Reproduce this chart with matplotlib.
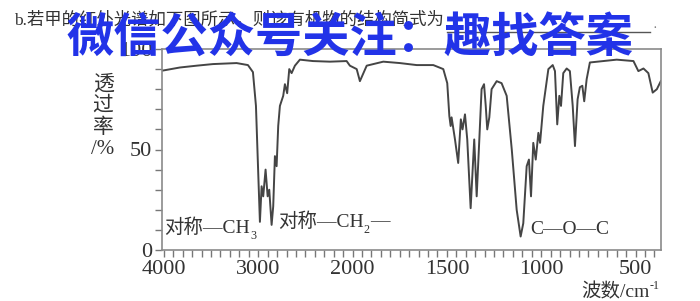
import numpy as np
import matplotlib
matplotlib.use("Agg")
import matplotlib.pyplot as plt
from matplotlib.ticker import FixedLocator, NullFormatter

plt.rcParams['font.family'] = ['Liberation Serif', 'Noto Sans CJK SC']

# ---- data ----
wavenumber = [4020, 3830, 3653, 3480, 3229, 3109, 3056, 3024, 3000, 2982, 2964, 2947,
              2922, 2900, 2883, 2858, 2841, 2823, 2805, 2788, 2770, 2735, 2717, 2693,
              2671, 2646, 2611, 2558, 2420, 2240, 2063, 2028,
              1978, 1961, 1925, 1837, 1749, 1660, 1572, 1519, 1498, 1487, 1480, 1475,
              1457, 1440, 1426, 1417, 1404, 1392, 1374, 1355, 1342, 1328, 1316, 1303,
              1294, 1286, 1275, 1263, 1236, 1210, 1183, 1156, 1130, 1109, 1095, 1077,
              1065, 1054, 1042, 1029, 1015, 1006, 989, 962, 939, 927, 915, 904, 895,
              883, 865, 848, 833, 821, 807, 795, 782, 772, 759, 742, 671, 600, 511,
              485, 458, 432, 409, 387, 366]
transmittance = [89.2, 90.8, 91.7, 92.5, 93.0, 92.0, 88.5, 71.7, 38.5, 14.0, 31.7, 26.7,
                 40.0, 26.7, 30.0, 12.5, 21.7, 46.7, 41.7, 61.7, 71.7, 76.7, 82.5, 78.0,
                 90.0, 88.0, 91.7, 94.7, 94.0, 93.7, 94.0, 91.7,
                 90.0, 84.0, 91.7, 93.7, 93.0, 92.0, 92.0, 90.0, 83.0, 66.7, 61.7, 66.0,
                 55.0, 43.3, 65.0, 60.0, 67.5, 55.0, 20.8, 55.0, 26.7, 55.0, 80.0, 82.5,
                 71.7, 60.0, 66.0, 80.0, 84.0, 83.0, 76.7, 50.0, 20.0, 6.7, 13.3, 41.7,
                 45.0, 26.7, 53.3, 45.0, 58.3, 53.3, 71.7, 90.0, 92.0, 89.0, 62.5, 76.7, 71.7,
                 88.0, 90.3, 89.0, 71.7, 51.7, 75.0, 81.0, 81.7, 74.0, 85.0, 93.3, 94.0, 94.7, 94.0,
                 89.0, 90.3, 88.0, 78.3, 80.0, 84.0]
x_major = [4000, 3000, 2000, 1500, 1000, 500]
x_labels = ['4000', '3000', '2000', '1500', '1000', '500']
y_major = [0, 50, 100]
y_labels = ['0', '50', '100']

def fwd(w):
    w = np.asarray(w, dtype=float)
    return np.where(w >= 2000, 4 + (w - 2000) / 1000.0, w / 500.0)

def inv(u):
    u = np.asarray(u, dtype=float)
    return np.where(u >= 4, 2000 + (u - 4) * 1000.0, u * 500.0)

W, H = 700, 301
TXT = '#333333'
fig = plt.figure(figsize=(7.0, 3.01), dpi=100)
ax = fig.add_axes([162 / W, 1 - 250 / H, (661 - 162) / W, (250 - 49) / H])
ax.set_xscale('function', functions=(fwd, inv))
ax.plot(wavenumber, transmittance, color='#454545', lw=1.4)
ax.set_xlim(4020, 365)
ax.set_ylim(0, 100)

minor_x = list(range(4000, 2000, -100)) + list(range(2000, 360, -50))
ax.xaxis.set_major_locator(FixedLocator(x_major))
ax.set_xticklabels(x_labels)
ax.xaxis.set_minor_locator(FixedLocator(minor_x))
ax.xaxis.set_minor_formatter(NullFormatter())
ax.yaxis.set_major_locator(FixedLocator(y_major))
ax.set_yticklabels(y_labels)
ax.yaxis.set_minor_locator(FixedLocator(list(range(0, 101, 10))))

for s in ax.spines.values():
    s.set_color('#8a8a8a')
    s.set_linewidth(1.2)
ax.tick_params(which='both', direction='out', length=5, width=1.0, color='#777777',
               top=False, right=False)
ax.tick_params(axis='both', which='major', labelsize=16, labelcolor=TXT, pad=2)


def label_with_script(x, y, main, script, tail='', sup=False, size=14, transform=None):
    if transform is None:
        transform = fig.transFigure
    t = fig.text(x, y, main, transform=transform, fontsize=size, color=TXT,
                 va='center', ha='left')
    yy = 0.85 if sup else 0.05
    ax.annotate(script, xy=(1.0, yy), xycoords=t, fontsize=size * 0.62,
                color=TXT, va='center', ha='left', annotation_clip=False)
    if tail:
        ax.annotate(tail, xy=(1.0, 0.5), xycoords=t, xytext=(size * 0.62 * 0.55, 0),
                    textcoords='offset points', fontsize=size, color=TXT,
                    va='center', ha='left', annotation_clip=False)
    return t


label_with_script(0.005, 0.11, '对称—CH', '3', transform=ax.transAxes)
label_with_script(0.232, 0.14, '对称—CH', '2', tail='—', transform=ax.transAxes)
ax.text(0.737, 0.10, 'C—O—C', transform=ax.transAxes, fontsize=14,
        color=TXT, va='center', ha='left')


def ft(x, y, s, **kw):
    return fig.text(x / W, 1 - y / H, s, **kw)

ft(103, 117, '透\n过\n率\n/%', fontsize=15, color=TXT, ha='center', va='center',
   linespacing=1.15)
label_with_script(581 / W, 1 - 292 / H, '波数/cm', '-1', sup=True, size=14)
ft(14, 20, 'b.若甲的红外光谱如下图所示，则该有机物的结构简式为', fontsize=12.5,
   color=TXT, ha='left', va='center')
fig.add_artist(plt.Line2D([447 / W, 650 / W], [1 - 32 / H, 1 - 32 / H],
                          color='#555555', lw=1.0))
ft(655, 28, '·', fontsize=10, color='#777777', ha='center', va='center')
ft(350, 38, '微信公众号关注：趣找答案', fontsize=34, fontweight='bold',
   color='#2233e8', ha='center', va='center', family=['Noto Sans CJK SC'], zorder=10)

fig.savefig('out.png', dpi=100)
